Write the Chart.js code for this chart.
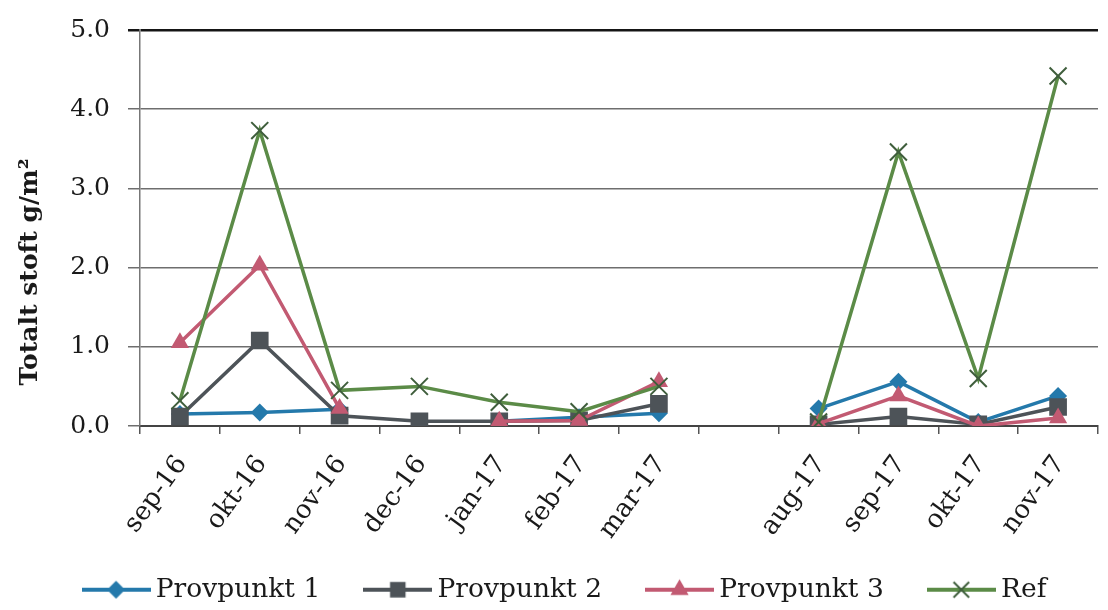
<!DOCTYPE html>
<html>
<head>
<meta charset="utf-8">
<script src="https://cdn.jsdelivr.net/npm/chart.js@4.4.1/dist/chart.umd.min.js"></script>
<style>
  html, body { margin: 0; padding: 0; background: #fff; overflow: hidden; }
  #wrap { position: relative; width: 1112px; height: 610px; }
</style>
</head>
<body>
<div id="wrap"><canvas id="c"></canvas></div>
<script>
// Monthly samples of total dust (g/m²) at three sampling points and a reference site
const months = ['sep-16', 'okt-16', 'nov-16', 'dec-16', 'jan-17', 'feb-17', 'mar-17', '',
                'aug-17', 'sep-17', 'okt-17', 'nov-17'];
const provpunkt1 = [0.15, 0.17, 0.21, null, 0.06, 0.11, 0.16, null, 0.22, 0.56, 0.05, 0.38];
const provpunkt2 = [0.12, 1.08, 0.13, 0.06, 0.06, 0.07, 0.28, null, 0.02, 0.12, 0.02, 0.24];
const provpunkt3 = [1.05, 2.03, 0.22, null, 0.06, 0.07, 0.56, null, 0.03, 0.38, 0.00, 0.10];
const refSite    = [0.32, 3.73, 0.45, 0.50, 0.30, 0.18, 0.50, null, 0.05, 3.46, 0.60, 4.42];
const yTicks = [0, 1, 2, 3, 4, 5];

const SERIF = '"DejaVu Serif", "Liberation Serif", serif';

const series = [
  { label: 'Provpunkt 1', data: provpunkt1, color: '#2479ab', marker: 'rectRot', radius: 9 },
  { label: 'Provpunkt 2', data: provpunkt2, color: '#4d5358', marker: 'rect', radius: 12.5 },
  { label: 'Provpunkt 3', data: provpunkt3, color: '#c25a72', marker: 'triangle', radius: 10.5 },
  { label: 'Ref', data: refSite, color: '#5b8b47', marker: 'crossRot', radius: 12, markerColor: '#3f5e3c' }
];

// Small legend icon: a line segment with the series marker in the middle
function legendIcon(s) {
  const w = 69, h = 26;
  const cv = document.createElement('canvas');
  cv.width = w; cv.height = h;
  const g = cv.getContext('2d');
  const cx = w / 2, cy = h / 2;
  g.strokeStyle = s.color; g.lineWidth = 4;
  g.beginPath(); g.moveTo(0, cy); g.lineTo(w, cy); g.stroke();
  const r = Math.min(s.radius, 11);
  g.fillStyle = s.color;
  g.beginPath();
  if (s.marker === 'rectRot') {
    g.moveTo(cx, cy - r); g.lineTo(cx + r, cy); g.lineTo(cx, cy + r); g.lineTo(cx - r, cy); g.closePath(); g.fill();
  } else if (s.marker === 'rect') {
    const a = r * Math.SQRT1_2;
    g.rect(cx - a, cy - a, 2 * a, 2 * a); g.fill();
  } else if (s.marker === 'triangle') {
    const k = Math.sqrt(3) / 2;
    g.moveTo(cx, cy - r); g.lineTo(cx + r * k, cy + r / 2); g.lineTo(cx - r * k, cy + r / 2); g.closePath(); g.fill();
  } else {
    const a = r * Math.SQRT1_2;
    g.strokeStyle = s.markerColor || s.color; g.lineWidth = 2;
    g.moveTo(cx - a, cy - a); g.lineTo(cx + a, cy + a);
    g.moveTo(cx + a, cy - a); g.lineTo(cx - a, cy + a); g.stroke();
  }
  return cv;
}

const datasets = series.map((s, i) => ({
  label: s.label,
  data: s.data,
  borderColor: s.color,
  backgroundColor: s.color,
  borderWidth: 3.5,
  pointStyle: s.marker,
  pointRadius: s.radius,
  pointHoverRadius: s.radius,
  pointBackgroundColor: s.color,
  pointBorderColor: s.markerColor || s.color,
  pointBorderWidth: s.marker === 'crossRot' ? 2 : 0,
  spanGaps: false,
  tension: 0,
  order: series.length - i,
  legendImage: legendIcon(s)
}));

// Rotated y-axis caption
const yCaption = {
  id: 'yCaption',
  afterDraw(chart) {
    const ctx = chart.ctx;
    ctx.save();
    ctx.translate(30, 272);
    ctx.rotate(-Math.PI / 2);
    ctx.fillStyle = '#1a1a1a';
    ctx.font = 'bold 25px ' + SERIF;
    ctx.textAlign = 'center';
    ctx.textBaseline = 'middle';
    ctx.fillText('Totalt stoft g/m²', 0, 0);
    ctx.restore();
  }
};

// Let the slanted month labels run down past the axis box without being cut off
const labelRoom = {
  id: 'labelRoom',
  afterLayout(chart) {
    chart.scales.x.bottom = chart.height;
  }
};

new Chart(document.getElementById('c'), {
  type: 'line',
  data: { labels: months, datasets },
  options: {
    responsive: true,
    maintainAspectRatio: false,
    animation: false,
    layout: { padding: { top: 30, left: 24, right: 0, bottom: -3 } },
    plugins: {
      tooltip: { enabled: false },
      legend: {
        position: 'bottom',
        labels: {
          usePointStyle: true,
          pointStyleWidth: 53,
          padding: 51,
          color: '#1a1a1a',
          font: { family: SERIF, size: 26.5 },
          sort: (a, b) => a.datasetIndex - b.datasetIndex,
          generateLabels(chart) {
            return chart.data.datasets.map((ds, i) => ({
              text: ds.label,
              datasetIndex: i,
              pointStyle: ds.legendImage,
              fillStyle: ds.borderColor,
              strokeStyle: ds.borderColor,
              lineWidth: 0,
              hidden: false,
              fontColor: '#1a1a1a'
            }));
          }
        }
      }
    },
    scales: {
      x: {
        offset: true,
        grid: {
          display: true,
          offset: true,
          drawOnChartArea: false,
          drawTicks: true,
          tickLength: 8,
          color: '#555',
          lineWidth: 1.5
        },
        border: { display: true, color: '#444', width: 2 },
        ticks: {
          autoSkip: false,
          minRotation: 54,
          maxRotation: 54,
          padding: 16,
          labelOffset: 2,
          color: '#1a1a1a',
          font: { family: SERIF, size: 26 }
        },
        afterFit(scale) { scale.height = 99.5; }
      },
      y: {
        min: 0,
        max: 5,
        afterBuildTicks(scale) { scale.ticks = yTicks.map(v => ({ value: v })); },
        grid: {
          color: ctx => (ctx.tick && ctx.tick.value === 5) ? '#151515' : '#6e6e6e',
          lineWidth: ctx => (ctx.tick && ctx.tick.value === 5) ? 2.5 : 1.5,
          tickLength: 12,
          drawTicks: true
        },
        border: { display: true, color: '#777', width: 1.5 },
        ticks: {
          padding: 18,
          color: '#1a1a1a',
          font: { family: SERIF, size: 25 },
          callback: v => Number(v).toFixed(1)
        },
        afterFit(scale) {
          scale.width = 116;
          scale.paddingTop = 0;
          scale.paddingBottom = 0;
        }
      }
    }
  },
  plugins: [yCaption, labelRoom]
});
</script>
</body>
</html>
